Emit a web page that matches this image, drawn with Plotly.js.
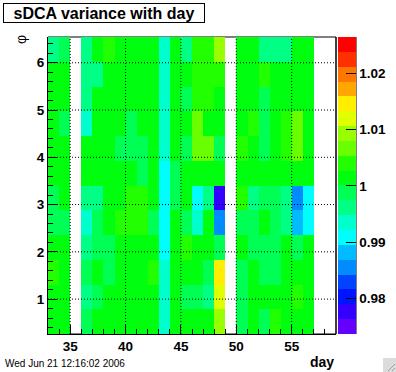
<!DOCTYPE html>
<html>
<head>
<meta charset="utf-8">
<script src="https://cdn.plot.ly/plotly-3.0.1.min.js"></script>
<style>
  html, body { margin: 0; padding: 0; background: #ffffff; }
  #chart { width: 396px; height: 372px; }
</style>
</head>
<body>
<div id="chart"></div>
<script>
// ---- data ----
const days = [33, 34, 35, 36, 37, 38, 39, 40, 41, 42, 43, 44, 45, 46, 47, 48, 49, 50, 51, 52, 53, 54, 55, 56];
const phi = [0.524, 1.047, 1.571, 2.094, 2.618, 3.142, 3.665, 4.189, 4.712, 5.236, 5.760, 6.283];

const row00 = [1.0014,1.0014,null,0.9987,1.0014,1.0014,1.0014,1.0014,1.0014,1.0014,0.9935,1.0014,1.0014,1.0014,1.0014,1.0093,null,0.9987,1.0014,0.9987,1.0040,1.0014,1.0014,1.0014];
const row01 = [1.0014,1.0014,null,0.9961,0.9987,1.0014,1.0014,1.0014,1.0014,1.0014,0.9935,1.0014,0.9987,0.9987,0.9961,1.0119,null,0.9987,1.0014,1.0014,1.0014,1.0014,1.0040,1.0014];
const row02 = [1.0040,1.0014,null,0.9987,1.0014,0.9987,1.0014,1.0014,1.0014,1.0040,0.9935,1.0014,1.0014,1.0014,0.9987,1.0146,null,0.9987,1.0014,0.9987,0.9987,1.0014,1.0014,1.0014];
const row03 = [1.0014,1.0014,null,0.9961,0.9987,0.9987,1.0014,1.0014,1.0014,1.0014,0.9908,1.0014,1.0040,1.0014,1.0014,0.9987,null,1.0014,0.9987,0.9987,0.9987,1.0014,0.9987,1.0014];
const row04 = [0.9987,0.9987,null,0.9935,0.9987,1.0014,1.0040,1.0040,1.0040,0.9987,0.9908,1.0014,0.9987,0.9935,1.0014,0.9855,null,0.9987,0.9987,1.0014,0.9987,0.9961,0.9882,0.9908];
const row05 = [0.9987,1.0014,null,0.9961,0.9961,1.0014,1.0014,1.0040,1.0040,1.0014,0.9908,0.9987,1.0014,0.9908,0.9961,0.9776,null,1.0040,0.9961,0.9987,0.9987,0.9961,0.9855,0.9908];
const row06 = [1.0014,1.0014,null,1.0014,1.0014,1.0014,1.0014,1.0014,0.9987,1.0014,0.9908,0.9987,1.0014,1.0014,1.0014,1.0014,null,1.0014,1.0014,1.0014,1.0014,1.0014,1.0014,1.0014];
const row07 = [1.0014,1.0014,null,1.0014,1.0014,1.0014,0.9987,0.9987,0.9987,1.0014,0.9935,1.0014,0.9987,1.0067,1.0067,0.9987,null,1.0040,1.0014,0.9987,1.0014,1.0040,1.0067,1.0014];
const row08 = [1.0014,0.9987,null,0.9935,1.0014,1.0014,1.0014,0.9987,1.0014,1.0014,0.9935,1.0014,1.0014,1.0067,1.0014,1.0014,null,1.0014,1.0040,0.9987,1.0014,1.0040,1.0067,1.0014];
const row09 = [1.0014,1.0014,null,0.9961,1.0014,1.0014,1.0014,1.0014,1.0014,1.0014,0.9935,1.0014,0.9987,1.0040,1.0040,1.0014,null,1.0014,1.0014,0.9987,1.0014,1.0014,1.0014,1.0014];
const row10 = [1.0014,1.0014,null,0.9961,0.9961,1.0014,1.0014,1.0014,1.0014,1.0014,0.9935,1.0014,1.0014,1.0040,1.0040,1.0040,null,1.0014,1.0014,1.0040,1.0014,1.0014,1.0014,1.0014];
const row11 = [0.9961,0.9987,null,0.9961,1.0014,1.0040,1.0014,1.0014,1.0014,1.0014,0.9935,1.0014,0.9961,1.0040,1.0040,1.0093,null,1.0014,1.0014,0.9961,0.9961,0.9961,1.0014,1.0014];

const zMin = 0.97365, zMax = 1.02646;
const cbTickVals = [0.98, 0.99, 1.0, 1.01, 1.02];
const cbTickText = ['0.98', '0.99', '1', '1.01', '1.02'];
const xGridTicks = [35, 40, 45, 50, 55];
const yGridTicks = [1, 2, 3, 4, 5, 6];

// ---- styling ----
const palette = ['#6300ff','#3300ff','#0014ff','#0044ff','#008bff','#00bbff','#00fffc','#00ffcc','#00ff85','#00ff55',
                 '#00ff0e','#22ff00','#69ff00','#99ff00','#e0ff00','#ffee00','#ffa700','#ff7700','#ff3000','#ff0000'];
const colorscale = [];
palette.forEach((c, i) => {
  colorscale.push([i / palette.length, c]);
  colorscale.push([(i + 1) / palette.length, c]);
});

const W = 396, H = 372;
const M = {l: 48, r: 60, t: 37, b: 38, autoexpand: false};
const PW = W - M.l - M.r, PH = H - M.t - M.b;
const px = x => (x - M.l) / PW;
const py = y => (H - M.b - y) / PH;

const FONT = 'Liberation Sans, Arial, Helvetica, sans-serif';
const tickFont = {family: FONT, size: 13.5, color: '#000', weight: 'bold'};

const trace = {
  type: 'heatmap',
  x: days.map(d => d + 0.5),
  y: phi,
  z: [row00,row01,row02,row03,row04,row05,row06,row07,row08,row09,row10,row11],
  zmin: zMin, zmax: zMax,
  colorscale: colorscale,
  zsmooth: false,
  hoverinfo: 'skip',
  colorbar: {
    x: 1 + 2 / PW, xanchor: 'left', xref: 'paper',
    y: 0.5, yanchor: 'middle', len: 1, lenmode: 'fraction',
    thickness: 18, thicknessmode: 'pixels',
    xpad: 0, ypad: 0, outlinewidth: 0, borderwidth: 0,
    ticks: 'inside', ticklen: 10, tickcolor: '#000', tickwidth: 1,
    tickmode: 'array', tickvals: cbTickVals, ticktext: cbTickText,
    tickfont: tickFont
  }
};

const shapes = [];
// frame (below traces so that cells cover it, like the original)
shapes.push({type: 'rect', xref: 'paper', yref: 'paper', x0: 0, x1: 1, y0: 0, y1: 1,
             line: {color: '#000', width: 1}, layer: 'below'});
shapes.push({type: 'line', xref: 'paper', yref: 'paper', x0: 1, x1: 1, y0: 0, y1: 1,
             line: {color: '#000', width: 1}});
// colour bar axis line
const cbR = 1 + 20 / PW;
shapes.push({type: 'line', xref: 'paper', yref: 'paper', x0: cbR, x1: cbR, y0: 0, y1: 1,
             line: {color: '#000', width: 1}});
// dotted grid drawn over the cells
xGridTicks.forEach(v => shapes.push({type: 'line', xref: 'x', yref: 'paper', x0: v, x1: v, y0: 0, y1: 1,
             line: {color: '#000', width: 1, dash: '1px,2px'}}));
yGridTicks.forEach(v => shapes.push({type: 'line', xref: 'paper', yref: 'y', x0: 0, x1: 1, y0: v, y1: v,
             line: {color: '#000', width: 1, dash: '1px,2px'}}));
// canvas resize grip
shapes.push({type: 'rect', xref: 'paper', yref: 'paper', x0: px(383), x1: px(396), y0: py(372), y1: py(358),
             fillcolor: '#dcdcdc', line: {width: 0}});
shapes.push({type: 'line', xref: 'paper', yref: 'paper', x0: px(388), x1: px(395), y0: py(371), y1: py(364),
             line: {color: '#a0a0a0', width: 1}});
shapes.push({type: 'line', xref: 'paper', yref: 'paper', x0: px(392), x1: px(395), y0: py(371), y1: py(368),
             line: {color: '#a0a0a0', width: 1}});

const annotations = [
  {text: 'sDCA variance with day', xref: 'paper', yref: 'paper', x: px(104), y: py(13.5),
   xanchor: 'center', yanchor: 'middle', showarrow: false, width: 200, height: 18, borderpad: 0,
   bordercolor: '#000', borderwidth: 1, bgcolor: '#fff',
   font: {family: FONT, size: 16, color: '#000', weight: 'bold'}},
  {text: 'φ', xref: 'paper', yref: 'paper', x: px(21), y: py(40), xanchor: 'center', yanchor: 'middle',
   showarrow: false, textangle: -90, font: {family: FONT, size: 14, color: '#000'}},
  {text: 'day', xref: 'paper', yref: 'paper', x: px(336), y: py(362), xanchor: 'right', yanchor: 'middle',
   showarrow: false, font: {family: FONT, size: 14, color: '#000', weight: 'bold'}},
  {text: 'Wed Jun 21 12:16:02 2006', xref: 'paper', yref: 'paper', x: px(3), y: py(363), xanchor: 'left', yanchor: 'middle',
   showarrow: false, font: {family: FONT, size: 10, color: '#000'}}
];

const layout = {
  width: W, height: H,
  margin: M,
  paper_bgcolor: '#fff', plot_bgcolor: 'rgba(0,0,0,0)',
  showlegend: false,
  xaxis: {
    range: [33, 59], tickmode: 'linear', tick0: 0, dtick: 5,
    ticks: 'inside', ticklen: 9, tickcolor: '#000', tickwidth: 1,
    showline: true, linecolor: '#000', linewidth: 1, mirror: false,
    showgrid: false, zeroline: false, tickfont: tickFont, automargin: false,
    minor: {tick0: 0, dtick: 1, ticks: 'inside', ticklen: 5, tickcolor: '#000', tickwidth: 1, showgrid: false}
  },
  yaxis: {
    range: [Math.PI / 12, 2 * Math.PI + Math.PI / 12], tickmode: 'linear', tick0: 0, dtick: 1,
    ticks: 'inside', ticklen: 9, tickcolor: '#000', tickwidth: 1,
    showline: true, linecolor: '#000', linewidth: 1, mirror: false,
    showgrid: false, zeroline: false, tickfont: tickFont, automargin: false,
    minor: {tick0: 0, dtick: 0.2, ticks: 'inside', ticklen: 5, tickcolor: '#000', tickwidth: 1, showgrid: false}
  },
  shapes: shapes,
  annotations: annotations
};

Plotly.newPlot('chart', [trace], layout, {displayModeBar: false, staticPlot: true});
</script>
</body>
</html>
